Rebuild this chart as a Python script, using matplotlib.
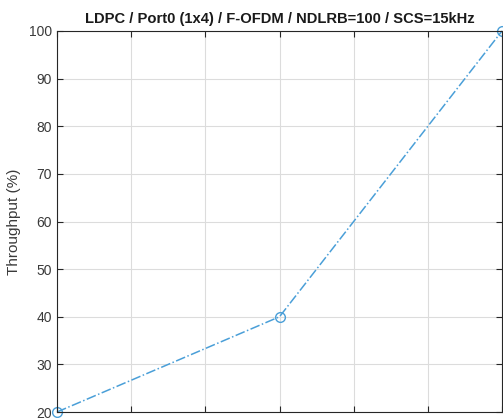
import matplotlib
matplotlib.use('Agg')
import matplotlib.pyplot as plt

# throughput vs SNR, three simulated points
snr = [0, 3, 6]
throughput = [20, 40, 100]
yticks = [20, 30, 40, 50, 60, 70, 80, 90, 100]

plt.rcParams['font.family'] = ['Liberation Sans', 'DejaVu Sans']

fig = plt.figure(figsize=(5.03, 4.18), dpi=100)
ax = fig.add_axes([57/503, 6/418, 445/503, 381/418])

ax.plot(snr, throughput, linestyle='-.', marker='o', color='#4a9fd8',
        markerfacecolor='none', markersize=7, linewidth=1.1, clip_on=False)

ax.set_xlim(0, 6)
ax.set_ylim(20, 100)
ax.set_xticks(range(0, 7))
ax.set_yticks(yticks)
ax.tick_params(axis='x', labelbottom=False)
ax.tick_params(direction='in', top=True, right=True, length=4,
               color='#262626', labelcolor='#3a3a3a', labelsize=10, width=0.8)
ax.grid(True, color='#dcdcdc', linewidth=0.8)
ax.set_axisbelow(True)
for sp in ax.spines.values():
    sp.set_color('#262626')
    sp.set_linewidth(0.8)

ax.set_ylabel('Throughput (%)', fontsize=11, color='#3a3a3a', labelpad=6)
ax.set_title('LDPC / Port0 (1x4) / F-OFDM / NDLRB=100 / SCS=15kHz',
             fontsize=10.6, fontweight='bold', color='#1a1a1a', pad=6)

fig.savefig('out.png', dpi=100)
